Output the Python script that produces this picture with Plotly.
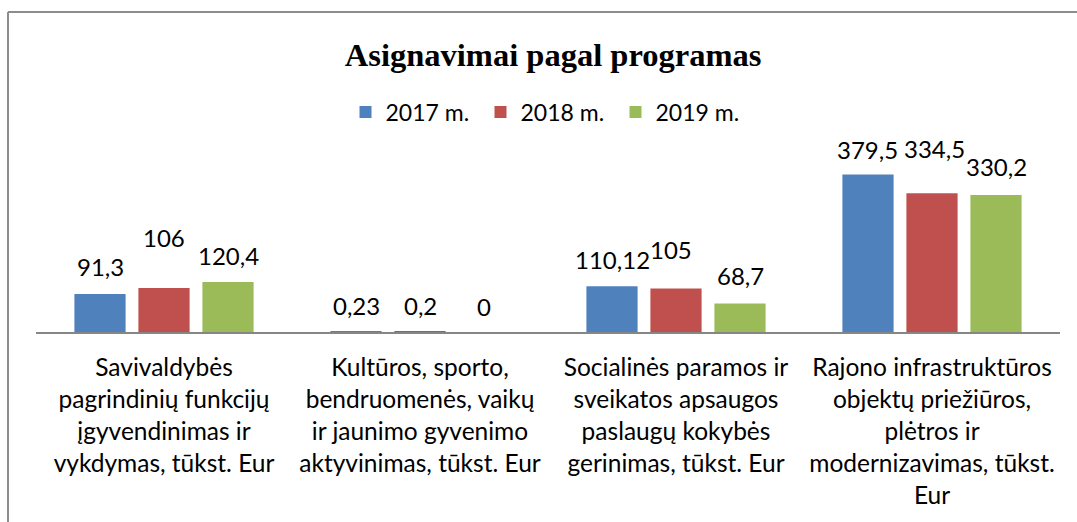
import plotly.graph_objects as go

categories = [
    "Savivaldybės<br>pagrindinių funkcijų<br>įgyvendinimas ir<br>vykdymas, tūkst. Eur",
    "Kultūros, sporto,<br>bendruomenės, vaikų<br>ir jaunimo gyvenimo<br>aktyvinimas, tūkst. Eur",
    "Socialinės paramos ir<br>sveikatos apsaugos<br>paslaugų kokybės<br>gerinimas, tūkst. Eur",
    "Rajono infrastruktūros<br>objektų priežiūros,<br>plėtros ir<br>modernizavimas, tūkst.<br>Eur",
]
series_names = ["2017 m.", "2018 m.", "2019 m."]
values_2017 = [91.3, 0.23, 110.12, 379.5]
values_2018 = [106, 0.2, 105, 334.5]
values_2019 = [120.4, 0, 68.7, 330.2]
series_values = [values_2017, values_2018, values_2019]

colors = ["#4F81BD", "#C0504D", "#9BBB59"]
# label offsets above bar tops (px), as placed in the original chart
label_yshift = [[28, 26, 27, 25], [51, 26, 39, 45], [27, 26, 28, 28]]
label_xshift_extra = [[0, 0, 0, -1], [0, 0, -5, 2], [0, 0, 0, 0]]

W, H = 1077, 522
ML, MR, MT, MB = 36, 17, 166, 190
plot_w = W - ML - MR
plot_h = H - MT - MB
bargap = 0.25
bargroupgap = 0.2
slot = plot_w / len(categories) * (1 - bargap) / len(series_names)

font_family = "Lato"

def fmt(v):
    s = ("%g" % v)
    return s.replace(".", ",")

fig = go.Figure()
for name, vals, c in zip(series_names, series_values, colors):
    fig.add_trace(go.Bar(
        x=categories, y=vals, name=name,
        marker=dict(color=c, line=dict(width=0)),
        hoverinfo="skip",
    ))

annotations = []
for si, vals in enumerate(series_values):
    for ci, v in enumerate(vals):
        annotations.append(dict(
            x=categories[ci], y=v, xref="x", yref="y",
            text=fmt(v), showarrow=False,
            xanchor="center", yanchor="middle",
            xshift=(si - 1) * slot + label_xshift_extra[si][ci],
            yshift=label_yshift[si][ci],
            font=dict(family=font_family, size=24, color="#000000"),
        ))

x_left = (8 - ML) / plot_w
y_top = (H - MB - 12) / plot_h
shapes = [
    dict(type="line", xref="paper", yref="paper", x0=x_left, x1=x_left,
         y0=-1.3, y1=y_top, line=dict(color="#8C8C8C", width=2)),
    dict(type="line", xref="paper", yref="paper", x0=x_left, x1=1.1,
         y0=y_top, y1=y_top, line=dict(color="#8C8C8C", width=2)),
]

fig.update_layout(
    width=W, height=H,
    margin=dict(l=ML, r=MR, t=MT, b=MB, autoexpand=False),
    paper_bgcolor="white", plot_bgcolor="white",
    barmode="group", bargap=bargap, bargroupgap=bargroupgap,
    title=dict(
        text="<b>Asignavimai pagal programas</b>",
        x=0.505, xref="paper", xanchor="center",
        y=1 - 55 / H, yref="container", yanchor="middle",
        font=dict(family="Liberation Serif", size=32.5, color="#000000"),
    ),
    legend=dict(
        orientation="h", x=0.5, xanchor="center",
        y=(H - MB - 112) / plot_h, yanchor="middle",
        font=dict(family=font_family, size=23, color="#000000"),
        entrywidth=90, entrywidthmode="pixels",
        itemclick=False, itemdoubleclick=False,
    ),
    xaxis=dict(
        showline=True, linecolor="#868686", linewidth=1.5,
        ticks="", showgrid=False,
        tickfont=dict(family=font_family, size=24.5, color="#000000"),
        ticklabelstandoff=13,
    ),
    yaxis=dict(range=[0, 400], visible=False, showgrid=False, zeroline=False),
    annotations=annotations,
    shapes=shapes,
    showlegend=True,
)

fig.write_html("out.html", config={"displayModeBar": False},
               post_script="document.body.style.margin='0';")
